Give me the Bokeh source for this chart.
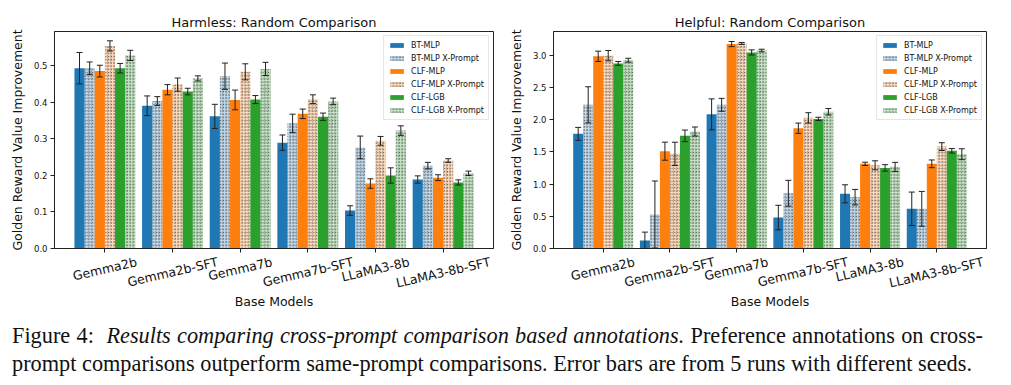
import math
from bokeh.plotting import figure
from bokeh.models import (ColumnDataSource, Whisker, TeeHead, FixedTicker, Range1d,
                          NumeralTickFormatter, Div, LinearAxis)
from bokeh.layouts import column, row
from bokeh.embed import file_html
from bokeh.resources import INLINE

# ---------------- data ----------------
models = ["Gemma2b", "Gemma2b-SFT", "Gemma7b", "Gemma7b-SFT", "LLaMA3-8b", "LLaMA3-8b-SFT"]
methods = ["BT-MLP", "BT-MLP X-Prompt", "CLF-MLP", "CLF-MLP X-Prompt", "CLF-LGB", "CLF-LGB X-Prompt"]

# Harmless: Random Comparison
harmless_bt_mlp = [0.494, 0.391, 0.362, 0.290, 0.104, 0.189]
harmless_bt_mlp_x = [0.494, 0.404, 0.472, 0.343, 0.277, 0.227]
harmless_clf_mlp = [0.486, 0.435, 0.407, 0.369, 0.178, 0.194]
harmless_clf_mlp_x = [0.555, 0.449, 0.484, 0.409, 0.295, 0.241]
harmless_clf_lgb = [0.494, 0.430, 0.408, 0.361, 0.200, 0.181]
harmless_clf_lgb_x = [0.529, 0.466, 0.492, 0.403, 0.323, 0.206]

harmless_bt_mlp_err = [0.043, 0.027, 0.033, 0.021, 0.013, 0.010]
harmless_bt_mlp_x_err = [0.017, 0.012, 0.036, 0.025, 0.031, 0.009]
harmless_clf_mlp_err = [0.016, 0.014, 0.027, 0.013, 0.013, 0.008]
harmless_clf_mlp_x_err = [0.014, 0.018, 0.022, 0.012, 0.012, 0.005]
harmless_clf_lgb_err = [0.013, 0.009, 0.011, 0.010, 0.021, 0.007]
harmless_clf_lgb_x_err = [0.014, 0.007, 0.018, 0.009, 0.013, 0.006]

# Helpful: Random Comparison
helpful_bt_mlp = [1.778, 0.124, 2.080, 0.480, 0.848, 0.615]
helpful_bt_mlp_x = [2.228, 0.527, 2.228, 0.857, 0.796, 0.615]
helpful_clf_mlp = [2.980, 1.509, 3.170, 1.865, 1.313, 1.313]
helpful_clf_mlp_x = [2.990, 1.468, 3.180, 2.026, 1.290, 1.580]
helpful_clf_lgb = [2.870, 1.747, 3.040, 2.010, 1.250, 1.515]
helpful_clf_lgb_x = [2.920, 1.814, 3.070, 2.120, 1.266, 1.462]

helpful_bt_mlp_err = [0.10, 0.13, 0.24, 0.19, 0.14, 0.26]
helpful_bt_mlp_x_err = [0.28, 0.52, 0.10, 0.20, 0.12, 0.27]
helpful_clf_mlp_err = [0.08, 0.14, 0.04, 0.08, 0.025, 0.06]
helpful_clf_mlp_x_err = [0.08, 0.18, 0.015, 0.08, 0.07, 0.06]
helpful_clf_lgb_err = [0.03, 0.09, 0.04, 0.025, 0.05, 0.035]
helpful_clf_lgb_x_err = [0.03, 0.07, 0.02, 0.05, 0.07, 0.085]

harmless_means = [harmless_bt_mlp, harmless_bt_mlp_x, harmless_clf_mlp,
                  harmless_clf_mlp_x, harmless_clf_lgb, harmless_clf_lgb_x]
harmless_errs = [harmless_bt_mlp_err, harmless_bt_mlp_x_err, harmless_clf_mlp_err,
                 harmless_clf_mlp_x_err, harmless_clf_lgb_err, harmless_clf_lgb_x_err]
helpful_means = [helpful_bt_mlp, helpful_bt_mlp_x, helpful_clf_mlp,
                 helpful_clf_mlp_x, helpful_clf_lgb, helpful_clf_lgb_x]
helpful_errs = [helpful_bt_mlp_err, helpful_bt_mlp_x_err, helpful_clf_mlp_err,
                helpful_clf_mlp_x_err, helpful_clf_lgb_err, helpful_clf_lgb_x_err]

# ---------------- style ----------------
COLORS = ["#1f77b4", "#1f77b4", "#ff7f0e", "#ff7f0e", "#2ca02c", "#2ca02c"]
HATCHED = [False, True, False, True, False, True]
BAR_W = 0.15
FONT = "DejaVu Sans"
FIG_H = 312
B_TOP, B_BOTTOM = 31, 64
FRAME_W = 439
X_START, X_END = -0.745, 5.745
XLAB_PX = 12.5
XLAB_ANGLE = math.radians(13)
# DejaVu Sans advance widths (em) used to centre the rotated tick labels like matplotlib
DJV_W = {"G": .776, "e": .615, "m": .974, "a": .613, "2": .636, "b": .635, "-": .361,
         "S": .635, "F": .575, "T": .611, "7": .636, "L": .557, "M": .863, "A": .684,
         "3": .636, "8": .636}


def label_len(s):
    return sum(DJV_W.get(c, 0.62) for c in s) * XLAB_PX


def make_panel(title, means, errs, ymax, yticks, width, border_left, border_right):
    p = figure(width=width, height=FIG_H, output_backend="svg", toolbar_location=None,
               x_range=Range1d(X_START, X_END), y_range=Range1d(0, ymax),
               x_axis_type=None,
               min_border_left=border_left, min_border_right=border_right,
               min_border_top=B_TOP, min_border_bottom=B_BOTTOM)
    p.title.text = title
    p.title.align = "center"
    p.title.text_font = FONT
    p.title.text_font_size = "13px"
    p.title.text_font_style = "normal"
    p.title.text_color = "#111111"
    p.title.standoff = 4

    xs_idx = list(range(len(models)))
    for k, name in enumerate(methods):
        off = (k - 2.5) * BAR_W
        xs = [i + off for i in xs_idx]
        src = ColumnDataSource(dict(
            x=xs, top=means[k],
            lower=[m - e for m, e in zip(means[k], errs[k])],
            upper=[m + e for m, e in zip(means[k], errs[k])]))
        if HATCHED[k]:
            p.vbar(x="x", top="top", width=BAR_W, source=src,
                   fill_color=COLORS[k], fill_alpha=0.28, line_color=None,
                   hatch_pattern="ring", hatch_color="#333333", hatch_alpha=0.8,
                   hatch_scale=3.2, hatch_weight=0.6, legend_label=name)
        else:
            p.vbar(x="x", top="top", width=BAR_W, source=src,
                   fill_color=COLORS[k], line_color=None, legend_label=name)
        w = Whisker(base="x", lower="lower", upper="upper", source=src,
                    line_color="#222222", line_width=1, level="overlay",
                    upper_head=TeeHead(size=6, line_color="#222222", line_width=1),
                    lower_head=TeeHead(size=6, line_color="#222222", line_width=1))
        p.add_layout(w)

    p.ygrid.visible = False
    p.outline_line_color = "#222222"
    p.outline_line_width = 1

    # axis 1 (next to the frame): tick marks at the group centres, no labels
    tick_axis = LinearAxis(ticker=FixedTicker(ticks=xs_idx),
                           major_label_overrides={i: "" for i in xs_idx},
                           major_label_text_font_size="1px", major_label_standoff=0,
                           axis_line_color="#222222", major_tick_line_color="#222222",
                           major_tick_out=4, major_tick_in=0, minor_tick_line_color=None)
    p.add_layout(tick_axis, "below")

    # axis 2: rotated model names, centred under their ticks (matplotlib style)
    px_per_unit = FRAME_W / (X_END - X_START)
    lab_pos = []
    for i, m in enumerate(models):
        L = label_len(m)
        lab_pos.append(round(i + (L * math.cos(XLAB_ANGLE) / 2) / px_per_unit, 4))
    lab_axis = LinearAxis(ticker=FixedTicker(ticks=lab_pos),
                          major_label_overrides={v: m for v, m in zip(lab_pos, models)},
                          major_label_orientation=XLAB_ANGLE,
                          major_label_text_font=FONT, major_label_text_font_size=f"{XLAB_PX}px",
                          major_label_text_color="#111111", major_label_standoff=9,
                          axis_line_color=None, major_tick_line_color=None,
                          major_tick_out=0, major_tick_in=0, minor_tick_line_color=None,
                          axis_label="Base Models", axis_label_standoff=-7,
                          axis_label_text_font=FONT, axis_label_text_font_style="normal",
                          axis_label_text_font_size="12.5px", axis_label_text_color="#111111")
    p.add_layout(lab_axis, "below")

    ax = p.yaxis[0]
    ax.axis_line_color = "#222222"
    ax.major_tick_line_color = "#222222"
    ax.major_tick_out = 4
    ax.major_tick_in = 0
    ax.minor_tick_line_color = None
    ax.axis_label_text_font = FONT
    ax.axis_label_text_font_style = "normal"
    ax.axis_label_text_font_size = "12.5px"
    ax.axis_label_text_color = "#111111"
    ax.major_label_text_font = FONT
    ax.major_label_text_color = "#111111"
    ax.ticker = FixedTicker(ticks=yticks)
    ax.formatter = NumeralTickFormatter(format="0.0")
    ax.major_label_text_font_size = "8.5px"
    ax.axis_label = "Golden Reward Value Improvement"
    ax.axis_label_standoff = 6
    ax.major_label_standoff = 3

    lg = p.legend[0]
    lg.location = "top_right"
    lg.margin = 4
    lg.padding = 4
    lg.spacing = 3
    lg.label_text_font = FONT
    lg.label_text_font_size = "8px"
    lg.label_text_color = "#111111"
    lg.label_height = 10
    lg.glyph_height = 6
    lg.glyph_width = 17
    lg.label_standoff = 6
    lg.border_line_color = "#cccccc"
    lg.background_fill_alpha = 0.85
    return p


p1 = make_panel("Harmless: Random Comparison", harmless_means, harmless_errs, 0.5945,
                [0.0, 0.1, 0.2, 0.3, 0.4, 0.5], 505, 54, 12)
p2 = make_panel("Helpful: Random Comparison", helpful_means, helpful_errs, 3.365,
                [0.0, 0.5, 1.0, 1.5, 2.0, 2.5, 3.0], 506, 42, 25)

caption_html = (
    "<div style=\"font-family:'Liberation Serif','Times New Roman',serif; font-size:22.3px;"
    " line-height:28px; color:#111; width:983px; padding-left:12px; padding-top:10px;\">"
    "<div style='text-align:justify; text-align-last:justify;'>Figure 4:&nbsp; <i>Results comparing "
    "cross-prompt comparison based annotations.</i> Preference annotations on cross-</div>"
    "<div>prompt comparisons outperform same-prompt comparisons. Error bars are from 5 runs "
    "with different seeds.</div></div>"
)
cap = Div(text=caption_html, width=1011, height=73, margin=(0, 0, 0, 0))

layout = column(row(p1, p2, spacing=0), cap, spacing=0)
open("out.html", "w").write(file_html(layout, INLINE))
